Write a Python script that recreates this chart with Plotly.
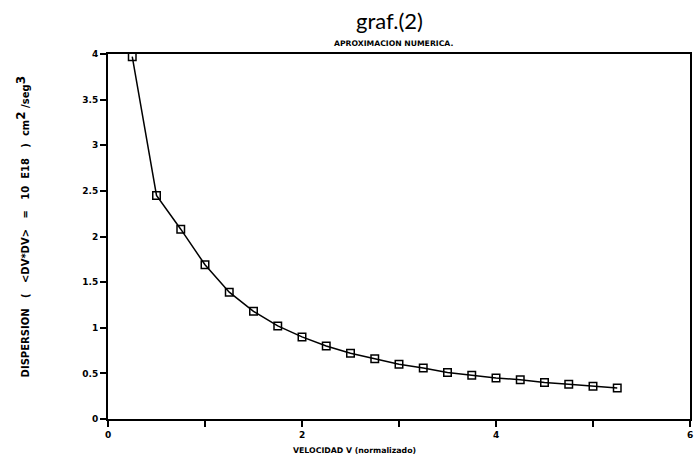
import plotly.graph_objects as go

velocidad = [0.25, 0.5, 0.75, 1.0, 1.25, 1.5, 1.75, 2.0, 2.25, 2.5, 2.75,
             3.0, 3.25, 3.5, 3.75, 4.0, 4.25, 4.5, 4.75, 5.0, 5.25]
dispersion = [3.97, 2.45, 2.08, 1.69, 1.39, 1.18, 1.02, 0.90, 0.80, 0.72, 0.66,
              0.60, 0.56, 0.51, 0.48, 0.45, 0.43, 0.40, 0.38, 0.36, 0.34]

title_main = "graf.(2)"
title_sub = "APROXIMACION NUMERICA."
x_title = "VELOCIDAD V (normalizado)"
y_title = ("DISPERSION   (   &lt;DV*DV&gt;   =   10  E18   )  cm"
           "<sup><span style='font-size:12px'>2</span></sup> /seg"
           "<sup><span style='font-size:12px'>3</span></sup>")

fig = go.Figure()
fig.add_trace(go.Scatter(
    x=velocidad, y=dispersion, mode="lines+markers",
    line=dict(color="black", width=1.5),
    marker=dict(symbol="square-open", size=7.5, color="black", line=dict(width=1.5)),
    showlegend=False, cliponaxis=False,
))

tickfont = dict(family="DejaVu Sans", size=9, color="black", weight="bold")

fig.update_layout(
    width=695, height=470,
    margin=dict(l=108, r=5, t=54, b=51),
    paper_bgcolor="white", plot_bgcolor="white",
    xaxis=dict(range=[0, 6], dtick=2, tick0=0, showgrid=False, zeroline=False,
               automargin=False,
               showline=True, linecolor="black", linewidth=2, mirror=True,
               ticks="outside", ticklen=6, tickwidth=1.5, tickcolor="black",
               minor=dict(dtick=1, ticks="outside", ticklen=6, tickwidth=1.5, tickcolor="black"),
               tickfont=tickfont),
    yaxis=dict(range=[0, 4], dtick=0.5, tick0=0, showgrid=False, zeroline=False,
               automargin=False,
               showline=True, linecolor="black", linewidth=2, mirror=True,
               ticks="outside", ticklen=6, tickwidth=1.5, tickcolor="black",
               tickfont=tickfont),
    annotations=[
        dict(text=title_main, xref="paper", yref="paper", x=0.484, y=1, yshift=34,
             xanchor="center", yanchor="middle", showarrow=False,
             font=dict(family="Lato", size=22, color="black")),
        dict(text=title_sub, xref="paper", yref="paper", x=0.49, y=1, yshift=11,
             xanchor="center", yanchor="middle", showarrow=False,
             font=dict(family="DejaVu Sans", size=7.7, color="black", weight="bold")),
        dict(text=x_title, xref="paper", yref="paper", x=0.423, y=0, yshift=-31,
             xanchor="center", yanchor="middle", showarrow=False,
             font=dict(family="DejaVu Sans", size=7.8, color="black", weight="bold")),
        dict(text=y_title, xref="paper", yref="paper", x=0, xshift=-86, y=0.525,
             xanchor="center", yanchor="middle", showarrow=False, textangle=-90,
             font=dict(family="DejaVu Sans", size=10, color="black", weight="bold")),
    ],
)

fig.write_html("out.html", config={"displayModeBar": False},
               post_script="document.body.style.margin='0';document.body.style.overflow='hidden';")
